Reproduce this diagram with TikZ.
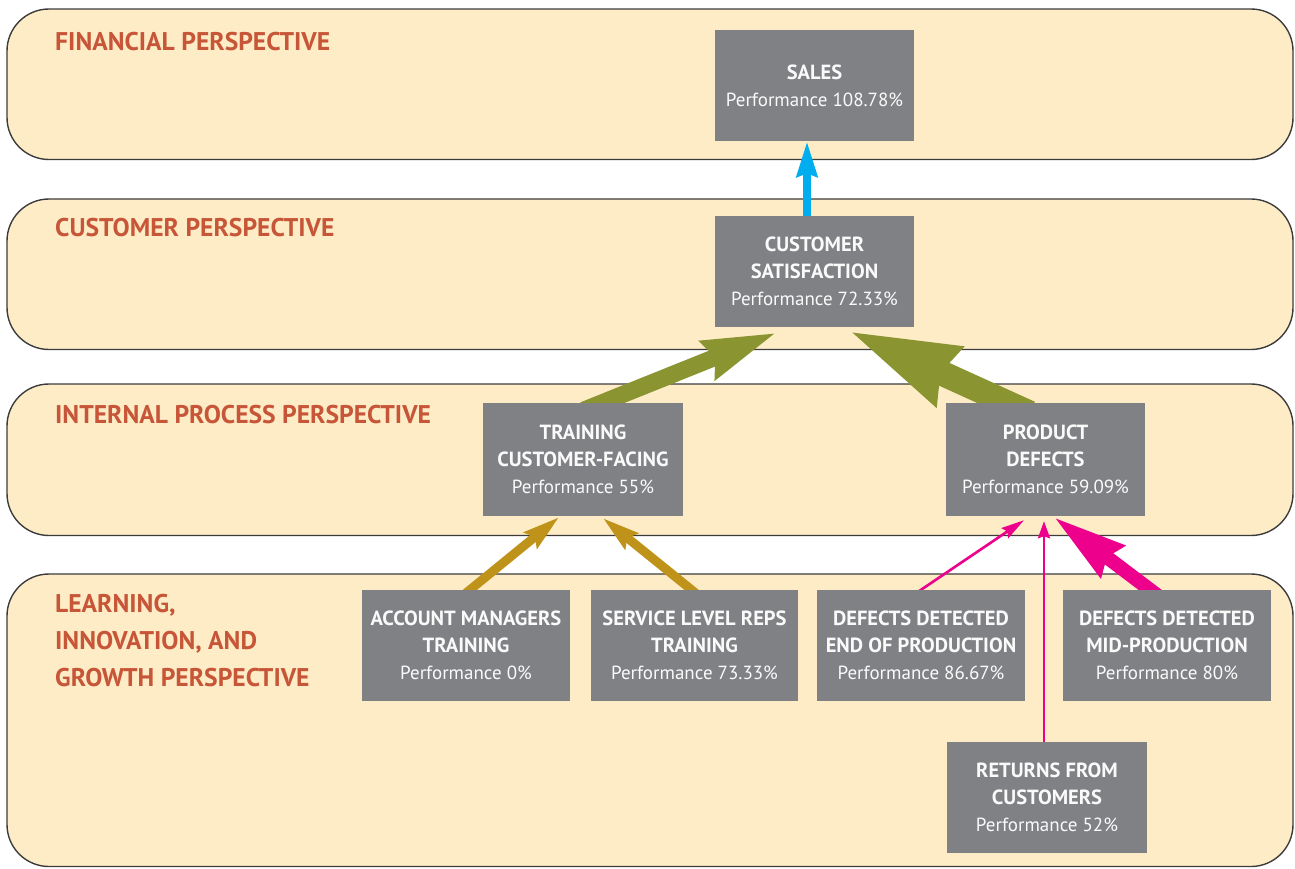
\documentclass[tikz,border=0pt]{standalone}
\usepackage{fontspec}
\setmainfont{PT Sans}
\usetikzlibrary{arrows.meta,calc}

\definecolor{bandfill}{RGB}{254,236,199}
\definecolor{bandline}{RGB}{60,60,60}
\definecolor{titlecol}{RGB}{199,86,56}
\definecolor{boxgray}{RGB}{128,129,133}
\definecolor{boxtext}{RGB}{250,250,250}
\definecolor{olivec}{RGB}{138,148,48}
\definecolor{goldc}{RGB}{191,147,26}
\definecolor{pinkc}{RGB}{236,0,140}
\definecolor{bluec}{RGB}{0,174,239}

\newcommand{\kpihead}[1]{{\fontsize{20.5}{27}\selectfont\bfseries #1}}

\pgfdeclarelayer{bands}
\pgfdeclarelayer{links}
\pgfsetlayers{bands,links,main}

\begin{document}
\begin{tikzpicture}[x=1pt,y=-1pt,
  band/.style={fill=bandfill,draw=bandline,line width=1.4pt,rounded corners=42pt},
  persp/.style={anchor=base west,inner sep=0pt,text=titlecol,
    font=\fontsize{25.6}{37}\selectfont\bfseries},
  kpi/.style={fill=boxgray,text=boxtext,inner sep=0pt,align=center,
    minimum height=111pt,font=\fontsize{19}{27}\selectfont},
  bluelink/.style={draw=bluec,line width=8pt,
    -{Stealth[length=35pt,width=20pt,inset=3pt]}},
  olivethin/.style={draw=olivec,line width=17pt,
    -{Stealth[length=73pt,width=38pt,inset=6pt]}},
  olivethick/.style={draw=olivec,line width=25pt,
    -{Stealth[length=108pt,width=59pt,inset=6pt]}},
  goldlink/.style={draw=goldc,line width=9pt,
    -{Stealth[length=36pt,width=20pt,inset=5pt]}},
  pinkthin/.style={draw=pinkc,line width=2.6pt,
    -{Stealth[length=23pt,width=12pt,inset=3pt]}},
  pinkvert/.style={draw=pinkc,line width=2.6pt,
    -{Stealth[length=17pt,width=12pt,inset=2pt]}},
  pinkthick/.style={draw=pinkc,line width=14pt,
    -{Stealth[length=72pt,width=38pt,inset=6pt]}}
]
\useasboundingbox (0,0) rectangle (1295,868);

% perspective bands
\begin{pgfonlayer}{bands}
  \draw[band] (7,9)   rectangle (1293,159.5);
  \draw[band] (7,199) rectangle (1293,349.5);
  \draw[band] (7,384) rectangle (1293,535.5);
  \draw[band] (7,574) rectangle (1293,866.5);
\end{pgfonlayer}

% perspective titles
\node[persp] (fin) at (55,50)  {FINANCIAL PERSPECTIVE};
\node[persp] (cus) at (55,236) {CUSTOMER PERSPECTIVE};
\node[persp] (int) at (55,423) {INTERNAL PROCESS PERSPECTIVE};
\node[persp,anchor=north west,align=left] (lrn) at (55,594)
  {LEARNING,\\INNOVATION, AND\\GROWTH PERSPECTIVE};

% measures
\node[kpi,minimum width=199pt] (sales) at (814.5,85.5)
  {\kpihead{SALES}\\Performance 108.78\%};
\node[kpi,minimum width=199pt] (cs) at (814.5,271.5)
  {\kpihead{CUSTOMER}\\\kpihead{SATISFACTION}\\Performance 72.33\%};
\node[kpi,minimum width=200pt,minimum height=113pt] (train) at (583,459.5)
  {\kpihead{TRAINING}\\\kpihead{CUSTOMER-FACING}\\Performance 55\%};
\node[kpi,minimum width=199pt,minimum height=113pt] (pd) at (1045.5,459.5)
  {\kpihead{PRODUCT}\\\kpihead{DEFECTS}\\Performance 59.09\%};
\node[kpi,minimum width=208pt] (amt) at (466,645.5)
  {\kpihead{ACCOUNT MANAGERS}\\\kpihead{TRAINING}\\Performance 0\%};
\node[kpi,minimum width=207pt] (slr) at (694.5,645.5)
  {\kpihead{SERVICE LEVEL REPS}\\\kpihead{TRAINING}\\Performance 73.33\%};
\node[kpi,minimum width=208pt] (dde) at (921,645.5)
  {\kpihead{DEFECTS DETECTED}\\\kpihead{END OF PRODUCTION}\\Performance 86.67\%};
\node[kpi,minimum width=208pt] (ddm) at (1167,645.5)
  {\kpihead{DEFECTS DETECTED}\\\kpihead{MID-PRODUCTION}\\Performance 80\%};
\node[kpi,minimum width=200pt] (ret) at (1047,797.5)
  {\kpihead{RETURNS FROM}\\\kpihead{CUSTOMERS}\\Performance 52\%};

% link end points
\coordinate (b0) at ($(cs.north)+(-7.5,0)$);
\coordinate (b1) at ($(sales.south)+(-7.5,0)$);
\coordinate (o0) at ($(train.north)+(19,0)$);
\coordinate (o1) at ($(cs.south west)+(63,5)$);
\coordinate (p0) at ($(pd.north)+(-38.5,0)$);
\coordinate (p1) at ($(cs.south east)+(-67,3)$);
\coordinate (g0) at ($(amt.north)+(4,0)$);
\coordinate (g1) at ($(train.south)+(-24,1)$);
\coordinate (h0) at ($(slr.north)+(-3,0)$);
\coordinate (h1) at ($(train.south)+(20,2)$);
\coordinate (e0) at (dde.north);
\coordinate (e1) at ($(pd.south)+(-21.5,4)$);
\coordinate (r0) at ($(ret.north)+(-3,0)$);
\coordinate (r1) at ($(pd.south)+(-1.5,5)$);
\coordinate (m0) at ($(ddm.north)+(-17,0)$);
\coordinate (m1) at ($(pd.south)+(8.5,1)$);

% cause-and-effect links, tails tucked under the source boxes
\begin{pgfonlayer}{links}
  \draw[bluelink]   ($(b0)!-10pt!(b1)$) -- (b1);
  \draw[olivethin]  ($(o0)!-20pt!(o1)$) -- (o1);
  \draw[olivethick] ($(p0)!-25pt!(p1)$) -- (p1);
  \draw[goldlink]   ($(g0)!-12pt!(g1)$) -- (g1);
  \draw[goldlink]   ($(h0)!-12pt!(h1)$) -- (h1);
  \draw[pinkthin]   ($(e0)!-6pt!(e1)$)  -- (e1);
  \draw[pinkvert]   ($(r0)!-6pt!(r1)$)  -- (r1);
  \draw[pinkthick]  ($(m0)!-18pt!(m1)$) -- (m1);
\end{pgfonlayer}
\end{tikzpicture}
\end{document}
